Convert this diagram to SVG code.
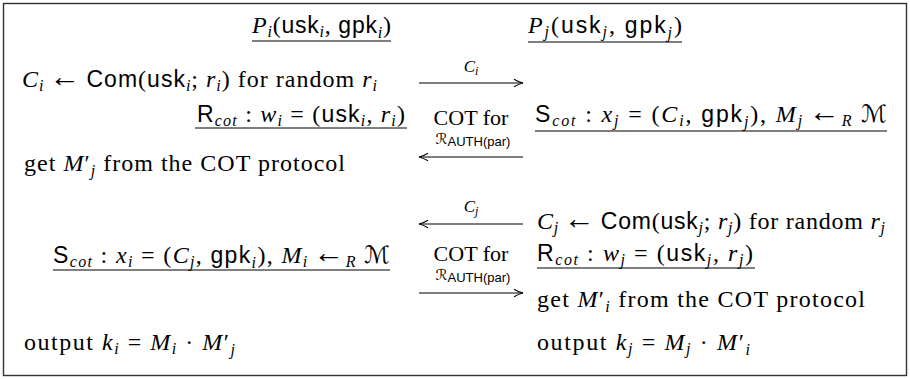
<svg xmlns="http://www.w3.org/2000/svg" width="910" height="379" viewBox="0 0 910 379">
<style>
text{font-family:"Liberation Serif",serif;font-size:24px;fill:#000}
.it{font-style:italic}
.sf{font-family:"Liberation Sans",sans-serif;font-style:normal;font-size:23px}
.sb{font-size:16px;font-style:italic}
.ar{font-family:"Liberation Serif",serif;font-size:31px;font-style:normal}
.cal{font-family:"DejaVu Serif","DejaVu Sans",serif;font-style:italic}
.cot{font-family:"Liberation Serif",serif;font-size:22px;font-style:normal}
.sx{font-family:"Liberation Sans",sans-serif;font-size:13px}
.ul{stroke:#000;stroke-width:1.1}
.arr{stroke:#000;stroke-width:1.1;fill:none;marker-end:url(#ah)}
</style>
<defs>
<marker id="ah" markerWidth="12" markerHeight="10" refX="10" refY="5" orient="auto" markerUnits="userSpaceOnUse"><path d="M1,1.2 Q6,4.2 10,5 Q6,5.8 1,8.8" fill="none" stroke="#000" stroke-width="1.1"/></marker>
</defs>
<rect x="3.5" y="3.5" width="903" height="372" fill="#fff" stroke="#333" stroke-width="1.4"/>

<g id="connectors">
<path class="arr" d="M419,83 H523"/>
<path class="arr" d="M523,157 H419"/>
<path class="arr" d="M523,224 H419"/>
<path class="arr" d="M419,293 H523"/>
</g>

<g id="lbl-ci">
<text x="471" y="72" text-anchor="middle"><tspan class="it" font-size="17">C</tspan><tspan class="it" font-size="12" dy="3">i</tspan></text>
</g>
<g id="lbl-cot1">
<text class="cot" x="471" y="125" text-anchor="middle">COT for</text>
<text x="473" y="144" text-anchor="middle"><tspan class="cal" font-size="15">ℛ</tspan><tspan class="sx" dy="2">AUTH(</tspan><tspan class="sx" font-size="11">par</tspan><tspan class="sx">)</tspan></text>
</g>
<g id="lbl-cj">
<text x="471" y="212" text-anchor="middle"><tspan class="it" font-size="17">C</tspan><tspan class="it" font-size="12" dy="3">j</tspan></text>
</g>
<g id="lbl-cot2">
<text class="cot" x="471" y="261" text-anchor="middle">COT for</text>
<text x="473" y="280" text-anchor="middle"><tspan class="cal" font-size="15">ℛ</tspan><tspan class="sx" dy="2">AUTH(</tspan><tspan class="sx" font-size="11">par</tspan><tspan class="sx">)</tspan></text>
</g>

<g id="party-i">
<text x="252" y="33" textLength="139"><tspan class="it">P</tspan><tspan class="sb" dy="4">i</tspan><tspan dy="-4">(</tspan><tspan class="sf">usk</tspan><tspan class="sb" dy="4">i</tspan><tspan dy="-4">, </tspan><tspan class="sf">gpk</tspan><tspan class="sb" dy="5">i</tspan><tspan dy="-5">)</tspan></text>
<line class="ul" x1="252" y1="41" x2="391" y2="41"/>
</g>
<g id="party-j">
<text x="528" y="33" textLength="154"><tspan class="it">P</tspan><tspan class="sb" dy="4">j</tspan><tspan dy="-4">(</tspan><tspan class="sf">usk</tspan><tspan class="sb" dy="4">j</tspan><tspan dy="-4">, </tspan><tspan class="sf">gpk</tspan><tspan class="sb" dy="5">j</tspan><tspan dy="-5">)</tspan></text>
<line class="ul" x1="528" y1="42" x2="682" y2="42"/>
</g>

<g id="commit-i">
<text x="22" y="87" textLength="355"><tspan class="it">C</tspan><tspan class="sb" dy="4">i</tspan><tspan dy="-4" dx="5" class="ar">←</tspan><tspan class="sf" dx="5">Com</tspan><tspan>(</tspan><tspan class="sf">usk</tspan><tspan class="sb" dy="4">i</tspan><tspan dy="-4">; </tspan><tspan class="it">r</tspan><tspan class="sb" dy="4">i</tspan><tspan dy="-4">) for random </tspan><tspan class="it">r</tspan><tspan class="sb" dy="4">i</tspan></text>
</g>
<g id="rcot-i">
<text x="197" y="122" textLength="208"><tspan class="sf">R</tspan><tspan class="sb" dy="4">cot</tspan><tspan dy="-4"> : </tspan><tspan class="it">w</tspan><tspan class="sb" dy="4">i</tspan><tspan dy="-4"> = (</tspan><tspan class="sf">usk</tspan><tspan class="sb" dy="4">i</tspan><tspan dy="-4">, </tspan><tspan class="it">r</tspan><tspan class="sb" dy="4">i</tspan><tspan dy="-4">)</tspan></text>
<line class="ul" x1="195" y1="128" x2="407" y2="128"/>
</g>
<g id="scot-j">
<text x="535" y="122" textLength="352"><tspan class="sf">S</tspan><tspan class="sb" dy="4">cot</tspan><tspan dy="-4"> : </tspan><tspan class="it">x</tspan><tspan class="sb" dy="4">j</tspan><tspan dy="-4"> = (</tspan><tspan class="it">C</tspan><tspan class="sb" dy="4">i</tspan><tspan dy="-4">, </tspan><tspan class="sf">gpk</tspan><tspan class="sb" dy="5">j</tspan><tspan dy="-5">), </tspan><tspan class="it">M</tspan><tspan class="sb" dy="4">j</tspan><tspan dy="-4" dx="5" class="ar">←</tspan><tspan class="sb" dy="4">R</tspan><tspan dy="-4"> </tspan><tspan class="cal">ℳ</tspan></text>
<line class="ul" x1="535" y1="131" x2="887" y2="131"/>
</g>
<g id="get-i">
<text x="24" y="171" textLength="321"><tspan>get </tspan><tspan class="it">M</tspan><tspan>′</tspan><tspan class="sb" dy="5">j</tspan><tspan dy="-5"> from the COT protocol</tspan></text>
</g>

<g id="commit-j">
<text x="537" y="229" textLength="348"><tspan class="it">C</tspan><tspan class="sb" dy="4">j</tspan><tspan dy="-4" dx="5" class="ar">←</tspan><tspan class="sf" dx="5">Com</tspan><tspan>(</tspan><tspan class="sf">usk</tspan><tspan class="sb" dy="4">j</tspan><tspan dy="-4">; </tspan><tspan class="it">r</tspan><tspan class="sb" dy="4">j</tspan><tspan dy="-4">) for random </tspan><tspan class="it">r</tspan><tspan class="sb" dy="4">j</tspan></text>
</g>
<g id="scot-i">
<text x="53" y="263" textLength="337"><tspan class="sf">S</tspan><tspan class="sb" dy="4">cot</tspan><tspan dy="-4"> : </tspan><tspan class="it">x</tspan><tspan class="sb" dy="4">i</tspan><tspan dy="-4"> = (</tspan><tspan class="it">C</tspan><tspan class="sb" dy="4">j</tspan><tspan dy="-4">, </tspan><tspan class="sf">gpk</tspan><tspan class="sb" dy="5">i</tspan><tspan dy="-5">), </tspan><tspan class="it">M</tspan><tspan class="sb" dy="4">i</tspan><tspan dy="-4" dx="5" class="ar">←</tspan><tspan class="sb" dy="4">R</tspan><tspan dy="-4"> </tspan><tspan class="cal">ℳ</tspan></text>
<line class="ul" x1="53" y1="270" x2="390" y2="270"/>
</g>
<g id="rcot-j">
<text x="537" y="261" textLength="216"><tspan class="sf">R</tspan><tspan class="sb" dy="4">cot</tspan><tspan dy="-4"> : </tspan><tspan class="it">w</tspan><tspan class="sb" dy="4">j</tspan><tspan dy="-4"> = (</tspan><tspan class="sf">usk</tspan><tspan class="sb" dy="4">j</tspan><tspan dy="-4">, </tspan><tspan class="it">r</tspan><tspan class="sb" dy="4">j</tspan><tspan dy="-4">)</tspan></text>
<line class="ul" x1="537" y1="268" x2="755" y2="268"/>
</g>
<g id="get-j">
<text x="537" y="307" textLength="328"><tspan>get </tspan><tspan class="it">M</tspan><tspan>′</tspan><tspan class="sb" dy="5">i</tspan><tspan dy="-5"> from the COT protocol</tspan></text>
</g>

<g id="output-i">
<text x="24" y="350" textLength="211"><tspan>output </tspan><tspan class="it">k</tspan><tspan class="sb" dy="4">i</tspan><tspan dy="-4"> = </tspan><tspan class="it">M</tspan><tspan class="sb" dy="4">i</tspan><tspan dy="-4"> · </tspan><tspan class="it">M</tspan><tspan>′</tspan><tspan class="sb" dy="5">j</tspan></text>
</g>
<g id="output-j">
<text x="537" y="350" textLength="213"><tspan>output </tspan><tspan class="it">k</tspan><tspan class="sb" dy="4">j</tspan><tspan dy="-4"> = </tspan><tspan class="it">M</tspan><tspan class="sb" dy="4">j</tspan><tspan dy="-4"> · </tspan><tspan class="it">M</tspan><tspan>′</tspan><tspan class="sb" dy="5">i</tspan></text>
</g>
</svg>
